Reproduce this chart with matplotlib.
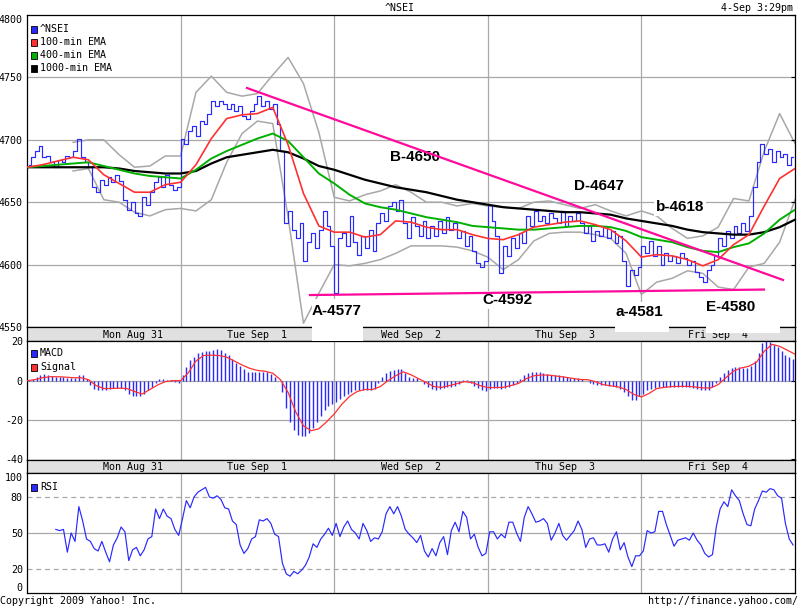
import matplotlib
matplotlib.use('Agg')
import matplotlib.pyplot as plt
import numpy as np
from matplotlib.patches import Rectangle

nan = np.nan

# ---- data ----
days = ['Mon Aug 31', 'Tue Sep  1', 'Wed Sep  2', 'Thu Sep  3', 'Fri Sep  4']
day_label_x = [0.69, 1.5, 2.5, 3.5, 4.5]

# ^NSEI, 40 samples per session
price = [
    4680, 4686, 4691, 4695, 4686, 4687, 4682, 4678, 4684, 4682, 4687, 4686, 4691, 4701, 4686, 4682, 4678, 4662, 4658, 4668,
    4664, 4670, 4666, 4672, 4667, 4652, 4644, 4650, 4641, 4639, 4654, 4648, 4658, 4666, 4670, 4662, 4672, 4664, 4660, 4662,
    4701, 4697, 4707, 4711, 4703, 4715, 4713, 4721, 4731, 4727, 4731, 4729, 4725, 4729, 4723, 4727, 4719, 4717, 4723, 4729,
    4735, 4727, 4731, 4725, 4729, 4713, 4691, 4633, 4643, 4628, 4621, 4633, 4603, 4618, 4625, 4613, 4628, 4643, 4631, 4615,
    4577, 4621, 4625, 4615, 4639, 4618, 4608, 4623, 4613, 4628, 4611, 4633, 4641, 4635, 4647, 4650, 4643, 4652, 4633, 4621,
    4638, 4631, 4623, 4635, 4621, 4631, 4623, 4635, 4625, 4638, 4628, 4633, 4621, 4627, 4615, 4623, 4611, 4601, 4598, 4603,
    4648, 4635, 4623, 4593, 4615, 4607, 4621, 4613, 4625, 4617, 4639, 4631, 4643, 4635, 4639, 4633, 4641, 4637, 4633, 4643,
    4631, 4639, 4635, 4641, 4633, 4625, 4631, 4619, 4627, 4623, 4631, 4621, 4627, 4617, 4623, 4603, 4583, 4596, 4592, 4598,
    4615, 4609, 4619, 4607, 4615, 4600, 4609, 4603, 4607, 4601, 4609, 4605, 4600, 4603, 4594, 4590, 4586, 4596, 4600, 4607,
    4621, 4615, 4627, 4621, 4631, 4625, 4633, 4627, 4639, 4662, 4682, 4697, 4689, 4693, 4682, 4691, 4686, 4689, 4680, 4686,
]

# moving averages and bands, 10 samples per session + closing point
ema100 = [
    4678, 4680, 4683, 4686, 4684, 4672, 4665, 4658, 4658, 4664,
    4666, 4680, 4701, 4717, 4720, 4721, 4726, 4696, 4657, 4631,
    4626, 4626, 4622, 4624, 4635, 4634, 4630, 4628, 4628, 4624,
    4621, 4620, 4624, 4630, 4632, 4634, 4635, 4632, 4628, 4619,
    4606, 4608, 4607, 4604, 4599, 4604, 4616, 4624, 4647, 4669, 4677,
]
ema400 = [
    4678, 4679, 4680, 4681, 4682, 4679, 4676, 4673, 4671, 4670,
    4669, 4676, 4685, 4691, 4696, 4701, 4705, 4699, 4686, 4673,
    4665, 4656, 4649, 4646, 4644, 4641, 4638, 4636, 4634, 4631,
    4630, 4629, 4628, 4628, 4629, 4630, 4631, 4631, 4630, 4627,
    4622, 4620, 4618, 4614, 4611, 4610, 4614, 4617, 4625, 4636, 4644,
]
ema1000 = [
    4678, 4678, 4678, 4678, 4678, 4678, 4677, 4675, 4674, 4673,
    4673, 4675, 4681, 4686, 4688, 4690, 4692, 4690, 4685, 4679,
    4676, 4672, 4668, 4665, 4662, 4660, 4658, 4655, 4652, 4650,
    4648, 4646, 4645, 4644, 4643, 4642, 4642, 4641, 4640, 4637,
    4635, 4633, 4631, 4628, 4626, 4625, 4624, 4624, 4626, 4630, 4636,
]
band_upper = [
    nan, nan, nan, 4698, 4700, 4700, 4688, 4678, 4679, 4687,
    4687, 4738, 4751, 4738, 4735, 4737, 4752, 4766, 4745, 4706,
    4654, 4651, 4656, 4659, 4664, 4658, 4650, 4650, 4647, 4649,
    4647, 4646, 4645, 4650, 4651, 4648, 4645, 4648, 4643, 4639,
    4643, 4639, 4629, 4621, 4623, 4630, 4653, 4651, 4691, 4721, 4697,
]
band_lower = [
    nan, nan, nan, 4675, 4677, 4652, 4650, 4642, 4639, 4644,
    4645, 4643, 4652, 4682, 4705, 4715, 4713, 4638, 4553, 4577,
    4600, 4599, 4601, 4604, 4609, 4615, 4615, 4615, 4614, 4611,
    4606, 4596, 4604, 4619, 4625, 4626, 4626, 4624, 4621, 4609,
    4576, 4586, 4589, 4595, 4593, 4582, 4580, 4598, 4601, 4618, 4652,
]

# trend lines drawn by hand on the chart (x in sessions, y in index points)
resist_x = [1.432, 4.922]
resist_y = [4741.5, 4587.7]
support_x = [1.842, 4.798]
support_y = [4575.6, 4580.0]

# MACD histogram, 40 samples per session
macd = [
    0.5, 1, 2, 3, 3.5, 3, 2.5, 2, 2, 2, 1.5, 1.5, 1.5, 3, 3, 1, -2, -4, -5, -5,
    -4.5, -4, -3.5, -3.5, -3.5, -5, -7, -8, -8, -8, -7, -5, -3, -1, 1, 1, 0.5, 0.5, -0.5, -1,
    3, 7, 10.5, 12, 14, 14.5, 15, 15, 15.5, 16, 15.5, 14, 13, 11, 9, 7.5, 6, 4.5, 4.5, 4.5,
    4.5, 4.5, 4.5, 3.5, 2, 0, -6, -14, -21, -25, -27.5, -28, -28, -26.5, -24, -21, -18, -15, -13, -12,
    -11, -9.5, -8, -7, -6, -5, -4.5, -4.5, -5, -5, -4, -1, 2, 4, 5, 5.5, 6, 6, 4, 2,
    1.5, 1.5, 0, -1.5, -3, -4, -4.5, -4, -3.5, -3, -3, -2.5, -1.5, 0.5, 0.5, -1, -2.5, -3.5, -5, -5.5,
    -4, -3.5, -3.5, -4, -3.5, -3, -2, -1, 1, 3, 4, 4.5, 4.5, 4.5, 4, 3.5, 3, 3, 3, 2.5,
    2, 1.5, 1.5, 1.5, 1, 0, -1, -1.5, -2, -2, -2, -2.5, -2.5, -3, -4, -6, -8, -10, -10, -8,
    -7, -5, -4, -3.5, -3, -3, -3, -3, -3, -3, -3, -3, -3, -3.5, -4, -4.5, -5, -4.5, -3, -1,
    2, 4, 5.5, 6.5, 7, 7, 6.5, 6.5, 7.5, 10, 14, 19, 20, 19.5, 18, 17, 15, 13, 12, 11,
]
# signal line, 20 samples per session + closing point
signal = [
    0, 0.5, 1.5, 2, 2, 1.8, 1.5, 1.5, 0.5, -2.5, -4, -4, -3.8, -4, -5.5, -6.8, -4.5, -2.2, -0.5, 0,
    0, 4, 10, 12.8, 13, 12.8, 12, 10, 8, 6.3, 5.2, 4.8, 3.8, 0.5, -6, -16, -23, -25.5, -24.5, -21,
    -17, -12, -8, -5.5, -4.5, -4.5, -3, 0, 2.5, 4.5, 3, 1, -1, -3, -3.4, -2.5, -1.5, -0.5, -1, -2.5,
    -3.5, -3.5, -3.4, -2.5, -1.4, 1, 2.5, 2.9, 2.8, 2.3, 1.8, 1.2, 0.6, 0.5, -0.5, -2, -2.6, -3.2, -4.5, -7,
    -8.3, -6.5, -4, -3.4, -3, -2.9, -2.9, -3.2, -3.7, -3.7, -2, 1.5, 4.9, 6.5, 7.3, 9.5, 15, 18.5, 17.5, 15.5, 13.5,
]

# RSI, 40 samples per session
rsi = [
    nan, nan, nan, nan, nan, nan, nan, 53, 52, 53, 34, 50, 43, 72, 60, 45, 43, 37, 35, 43,
    34, 26, 40, 46, 55, 51, 27, 36, 38, 31, 36, 45, 47, 70, 62, 70, 64, 62, 53, 48,
    62, 77, 71, 80, 84, 86, 88, 80, 79, 81, 78, 71, 70, 60, 57, 40, 33, 37, 45, 47,
    61, 60, 62, 58, 49, 47, 25, 16, 14, 18, 16, 19, 23, 30, 41, 38, 45, 49, 54, 48,
    58, 47, 55, 60, 53, 50, 45, 58, 52, 43, 46, 45, 51, 66, 72, 66, 72, 64, 53, 49,
    46, 42, 48, 35, 30, 37, 31, 42, 47, 32, 52, 59, 51, 68, 63, 45, 49, 38, 31, 33,
    51, 51, 45, 49, 46, 59, 59, 50, 43, 63, 72, 66, 59, 60, 62, 58, 44, 50, 58, 48,
    44, 48, 52, 60, 53, 38, 45, 46, 40, 40, 41, 34, 45, 51, 36, 42, 30, 22, 31, 31,
    35, 52, 50, 51, 68, 68, 57, 48, 39, 44, 45, 46, 44, 50, 44, 40, 33, 30, 32, 55,
    70, 76, 72, 86, 81, 77, 66, 57, 56, 70, 77, 85, 84, 87, 86, 81, 79, 58, 45, 40,
]

t_price = (np.arange(len(price)) + 0.5) / 40
t_ema = np.arange(len(ema100)) / 10
t_sig = np.arange(len(signal)) / 20

BLUE = '#2828ff'
RED = '#ff3030'
GREEN = '#00b000'
GREY = '#a8a8a8'
PINK = '#ff0a9a'
MONO = 'DejaVu Sans Mono'
FS = 7.2

plt.rcParams['font.family'] = MONO
plt.rcParams['font.size'] = FS

fig = plt.figure(figsize=(8, 6.08), dpi=100)


def fx(px):
    return px / 800


def fy(py):
    return 1 - py / 608


def panel(top, bottom):
    return fig.add_axes([fx(27), fy(bottom), 768 / 800, (bottom - top) / 608])


def style(ax, ticks, labels):
    ax.set_xlim(0, 5)
    ax.set_xticks([])
    ax.set_yticks(ticks)
    ax.set_yticklabels(labels)
    ax.tick_params(axis='y', left=False, right=True, direction='in', length=3,
                   width=0.8, pad=3, labelsize=FS)
    for s in ax.spines.values():
        s.set_linewidth(0.9)
    for d in range(1, 5):
        ax.axvline(d, color=GREY, lw=0.9, zorder=0.5)


ax = panel(15, 327)
strip1 = panel(327, 341)
ax2 = panel(341, 460)
strip2 = panel(460, 473)
ax3 = panel(473, 593)

# ---- main price panel ----
style(ax, [4550, 4600, 4650, 4700, 4750, 4800], ['4550', '4600', '4650', '4700', '4750', '4800'])
ax.set_ylim(4550, 4800)
ax.get_yticklabels()[-1].set_va('top')
for g in [4600, 4650, 4700, 4750]:
    ax.axhline(g, color=GREY, lw=0.9, zorder=0.5)

ax.plot(t_ema, band_upper, color=GREY, lw=1.1, zorder=1)
ax.plot(t_ema, band_lower, color=GREY, lw=1.1, zorder=1)
ax.plot(t_price, price, color=BLUE, lw=0.85, drawstyle='steps-mid', zorder=2)
ax.plot(t_ema, ema1000, color='black', lw=1.6, zorder=3)
ax.plot(t_ema, ema400, color=GREEN, lw=1.4, zorder=3)
ax.plot(t_ema, ema100, color=RED, lw=1.2, zorder=3)
ax.plot(resist_x, resist_y, color=PINK, lw=1.6, zorder=4)
ax.plot(support_x, support_y, color=PINK, lw=1.6, zorder=4)

label_font = dict(family='Liberation Sans', weight='bold', size=11, ha='center', va='center')
ax.text(2.526, 4686, 'B-4650', zorder=1.5, **label_font)
for x, y, s in [(3.724, 4663, 'D-4647'), (4.251, 4646, 'b-4618'), (3.125, 4571.5, 'C-4592')]:
    ax.text(x, y, s, zorder=1.5,
            bbox=dict(facecolor='white', edgecolor='none', pad=1.5), **label_font)

# ---- date strips ----
for st in (strip1, strip2):
    st.set_facecolor('#e0e0e0')
    st.set_xlim(0, 5)
    st.set_ylim(0, 1)
    st.set_xticks([])
    st.set_yticks([])
    for s in st.spines.values():
        s.set_linewidth(0.9)
    for xx, lab in zip(day_label_x, days):
        st.text(xx, 0.45, lab, ha='center', va='center', fontsize=FS)

# ---- MACD ----
style(ax2, [20, 0, -20, -40], ['20', '0', '-20', '-40'])
ax2.set_ylim(-40.4, 20.2)
ax2.axhline(0, color=GREY, lw=0.9, zorder=0.5)
ax2.axhline(-20, color=GREY, lw=0.9, zorder=0.5)
ax2.vlines(t_price, 0, macd, color=BLUE, lw=1.0, zorder=2)
ax2.plot(t_sig, signal, color=RED, lw=0.9, zorder=3)

# ---- RSI ----
style(ax3, [0, 20, 50, 80, 100], ['0', '20', '50', '80', '100'])
ax3.set_ylim(0, 100)
ax3.get_yticklabels()[0].set_va('bottom')
ax3.get_yticklabels()[-1].set_va('top')
ax3.axhline(50, color=GREY, lw=0.9, zorder=0.5)
ax3.axhline(80, color=GREY, lw=0.9, ls=(0, (4, 3)), zorder=0.5)
ax3.axhline(20, color=GREY, lw=0.9, ls=(0, (4, 3)), zorder=0.5)
ax3.plot(t_price, rsi, color=BLUE, lw=0.85, zorder=2)


# ---- legends ----
def legend_item(py, color, text):
    fig.patches.append(Rectangle((fx(31), fy(py + 3.5)), 6 / 800, 7 / 608, transform=fig.transFigure,
                                 facecolor=color, edgecolor='black', lw=0.6, zorder=5))
    fig.text(fx(40), fy(py), text, va='center', ha='left', fontsize=FS, zorder=6)


legend_item(29, BLUE, '^NSEI')
legend_item(42, RED, '100-min EMA')
legend_item(55, GREEN, '400-min EMA')
legend_item(68, 'black', '1000-min EMA')
legend_item(353, BLUE, 'MACD')
legend_item(367, RED, 'Signal')
legend_item(487, BLUE, 'RSI')

# ---- annotation boxes reaching over the date strip ----
for (x0, y0, x1, y1), (cx, cy), s in [((312, 299, 363, 341), (337, 311), 'A-4577'),
                                     ((615, 302, 669, 332), (639, 312), 'a-4581'),
                                     ((706, 298, 780, 333), (731, 307), 'E-4580')]:
    fig.patches.append(Rectangle((fx(x0), fy(y1)), (x1 - x0) / 800, (y1 - y0) / 608,
                                 transform=fig.transFigure, facecolor='white', edgecolor='none', zorder=7))
    fig.text(fx(cx), fy(cy), s, zorder=8, **label_font)

# ---- header / footer ----
fig.text(0.5, fy(8), '^NSEI', ha='center', va='center', fontsize=FS)
fig.text(fx(793), fy(8), '4-Sep 3:29pm', ha='right', va='center', fontsize=FS)
fig.text(fx(0), fy(601), 'Copyright 2009 Yahoo! Inc.', ha='left', va='center', fontsize=FS)
fig.text(fx(798), fy(601), 'http://finance.yahoo.com/', ha='right', va='center', fontsize=FS)

fig.savefig('out.png', dpi=100)
